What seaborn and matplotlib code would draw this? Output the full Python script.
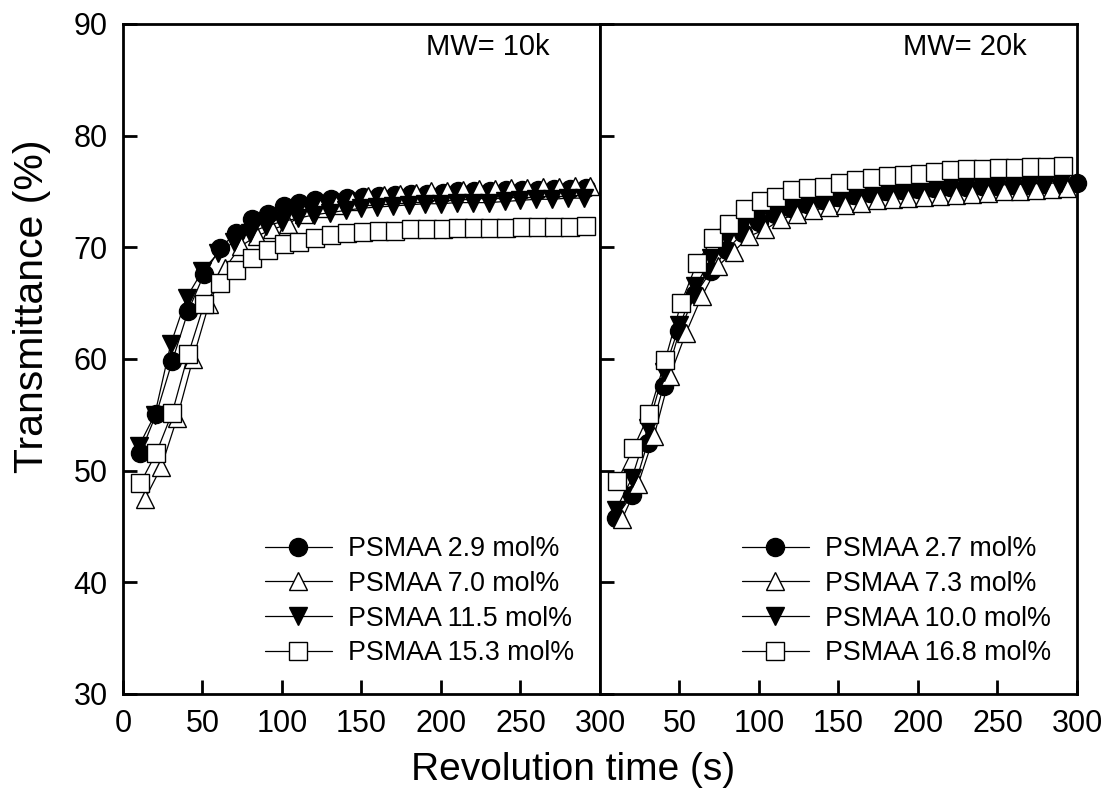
import numpy as np
import pandas as pd
import matplotlib
matplotlib.use('Agg')
import matplotlib.pyplot as plt
import seaborn as sns

#%% data (time in s, transmittance in %)
t_10k_a = [11 + 10*i for i in range(29)]
t_10k_b = [14 + 10*i for i in range(29)]
t_10k_c = [10 + 10*i for i in range(29)]
t_10k_d = [11 + 10*i for i in range(29)]

T_10k_29 = [51.6, 55.1, 59.8, 64.3, 67.6, 69.9, 71.3, 72.5, 73.0, 73.7, 74.0, 74.2, 74.3, 74.4, 74.5,
            74.6, 74.7, 74.8, 74.8, 74.9, 75.0, 75.0, 75.0, 75.1, 75.1, 75.1, 75.2, 75.2, 75.3]
T_10k_70 = [47.5, 50.3, 54.7, 60.0, 64.9, 68.1, 70.1, 71.0, 71.6, 72.1, 73.0, 73.5, 73.8, 74.1, 74.6,
            74.7, 74.8, 74.9, 75.0, 75.0, 75.1, 75.2, 75.2, 75.3, 75.3, 75.4, 75.4, 75.5, 75.5]
T_10k_115 = [52.2, 55.0, 61.3, 65.5, 67.9, 69.5, 70.5, 71.3, 71.9, 72.3, 72.6, 72.9, 73.1, 73.3, 73.5,
             73.6, 73.7, 73.8, 73.9, 73.9, 74.0, 74.0, 74.0, 74.1, 74.2, 74.3, 74.3, 74.4, 74.4]
T_10k_153 = [48.9, 51.6, 55.2, 60.4, 64.9, 66.8, 68.0, 69.0, 69.8, 70.3, 70.5, 70.8, 71.1, 71.25, 71.4,
             71.5, 71.5, 71.6, 71.6, 71.6, 71.7, 71.7, 71.7, 71.7, 71.8, 71.8, 71.8, 71.8, 71.9]

t_20k_a = [10 + 10*i for i in range(30)]
t_20k_b = [14 + 10*i for i in range(29)]
t_20k_c = [10 + 10*i for i in range(29)]
t_20k_d = [11 + 10*i for i in range(29)]

T_20k_27 = [45.8, 47.8, 52.5, 57.6, 62.5, 65.8, 67.9, 69.8, 71.3, 72.3, 73.0, 73.5, 73.9, 74.2, 74.5,
            74.7, 74.9, 75.0, 75.1, 75.2, 75.3, 75.4, 75.4, 75.5, 75.5, 75.6, 75.6, 75.7, 75.7, 75.8]
T_20k_73 = [45.7, 48.8, 53.1, 58.5, 62.3, 65.6, 68.3, 69.6, 71.0, 71.6, 72.5, 73.0, 73.3, 73.6, 73.8,
            74.0, 74.2, 74.3, 74.4, 74.5, 74.6, 74.7, 74.8, 74.9, 75.0, 75.0, 75.1, 75.2, 75.3]
T_20k_100 = [46.5, 49.3, 53.8, 58.8, 63.0, 66.5, 69.0, 70.8, 72.0, 72.8, 73.3, 73.7, 74.0, 74.3, 74.5,
             74.7, 74.9, 75.0, 75.1, 75.2, 75.3, 75.4, 75.5, 75.5, 75.6, 75.6, 75.7, 75.7, 75.8]
T_20k_168 = [49.1, 52.0, 55.1, 59.9, 65.0, 68.6, 70.8, 72.1, 73.4, 74.1, 74.5, 75.1, 75.3, 75.4, 75.8,
             76.0, 76.2, 76.4, 76.5, 76.6, 76.7, 76.9, 77.0, 77.0, 77.1, 77.1, 77.2, 77.2, 77.3]

labels_10k = ['PSMAA 2.9 mol%', 'PSMAA 7.0 mol%', 'PSMAA 11.5 mol%', 'PSMAA 15.3 mol%']
labels_20k = ['PSMAA 2.7 mol%', 'PSMAA 7.3 mol%', 'PSMAA 10.0 mol%', 'PSMAA 16.8 mol%']

#%% plot
sns.set_style('ticks', {'axes.edgecolor': 'black', 'text.color': 'black',
                        'xtick.color': 'black', 'ytick.color': 'black', 'axes.labelcolor': 'black'})
plt.rcParams['font.family'] = ['Liberation Sans', 'DejaVu Sans']

fig = plt.figure(figsize=(11.07, 8.06), dpi=100)
ax1 = fig.add_axes([0.1111, 0.1390, 0.4309, 0.8313])
ax2 = fig.add_axes([0.5420, 0.1390, 0.4309, 0.8313])

styles = [('o', 'black'), ('^', 'white'), ('v', 'black'), ('s', 'white')]

panels = [
    (ax1, [t_10k_a, t_10k_b, t_10k_c, t_10k_d], [T_10k_29, T_10k_70, T_10k_115, T_10k_153], labels_10k, 'MW= 10k'),
    (ax2, [t_20k_a, t_20k_b, t_20k_c, t_20k_d], [T_20k_27, T_20k_73, T_20k_100, T_20k_168], labels_20k, 'MW= 20k'),
]

for ax, ts, Ts, labs, title in panels:
    for (m, fc), t, T, lab in zip(styles, ts, Ts, labs):
        sns.lineplot(x=t, y=T, ax=ax, color='black', linewidth=0.9, marker=m,
                     markersize=13, markerfacecolor=fc, markeredgecolor='black',
                     markeredgewidth=1.0, label=lab, sort=False, clip_on=False)
    ax.set_xlim(0, 300)
    ax.set_ylim(30, 90)
    ax.set_xlabel('')
    ax.set_ylabel('')
    for s in ax.spines.values():
        s.set_linewidth(2.0)
        s.set_visible(True)
        s.set_color('black')
    ax.tick_params(direction='in', length=10, width=2.0, labelsize=22, pad=11,
                   top=False, right=False, colors='black')
    ax.text(0.895, 0.966, title, transform=ax.transAxes, ha='right', va='center', fontsize=21)
    leg = ax.legend(loc='lower right', bbox_to_anchor=(0.985, 0.013), frameon=False, fontsize=19.3,
                    handlelength=2.5, handletextpad=0.6, labelspacing=0.33, borderpad=0.2)

ax1.set_xticks([0, 50, 100, 150, 200, 250, 300])
ax1.set_yticks([30, 40, 50, 60, 70, 80, 90])
ax2.set_xticks([50, 100, 150, 200, 250, 300])
ax2.set_yticks([30, 40, 50, 60, 70, 80, 90])
ax2.set_yticklabels([])

ax1.set_ylabel('Transmittance (%)', fontsize=29.5)
ax1.yaxis.set_label_coords(-0.15, 0.578)
fig.text(573/1107, 1 - 770/806, 'Revolution time (s)', ha='center', va='center', fontsize=28)

fig.savefig('out.png', dpi=100)
